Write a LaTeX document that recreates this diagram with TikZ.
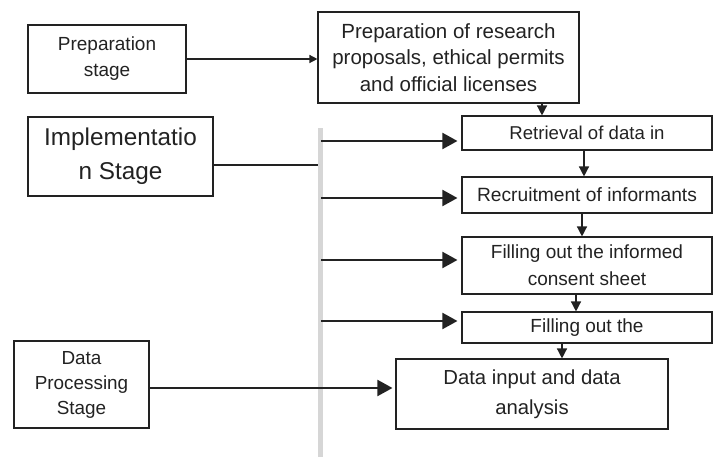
\documentclass[tikz,border=0pt]{standalone}
\usepackage{fontspec}
\setmainfont{Liberation Sans}
\usetikzlibrary{arrows.meta}
\newcommand\fsz[2]{\fontsize{#1}{#2}\selectfont}
\definecolor{barcol}{RGB}{214,214,214}
\definecolor{ink}{RGB}{34,34,34}
\begin{document}
\begin{tikzpicture}[x=1pt,y=-1pt,
  box/.style={draw=ink, line width=1.1pt, align=center, inner sep=0pt, text=ink},
  thinarrow/.style={draw=ink, line width=1.3pt, -{Triangle[length=8pt,width=8pt]}},
  bigarrow/.style={draw=ink, line width=2pt, -{Triangle[length=15pt,width=16pt]}},
  downarrow/.style={draw=ink, line width=1.4pt, -{Triangle[length=10pt,width=10pt]}},
  plainline/.style={draw=ink, line width=2pt}]
\useasboundingbox (0,0) rectangle (716,457);
% boxes
\node[box, minimum width=158pt, minimum height=68pt, font=\fsz{19}{26}] (A) at (107,59) {Preparation\\stage};
\node[box, minimum width=261pt, minimum height=91pt, font=\fsz{20.5}{26.5}] (B) at (448.5,57.5) {Preparation of research\\proposals, ethical permits\\and official licenses};
\node[box, minimum width=185pt, minimum height=79pt, font=\fsz{24.3}{34}] (C) at (120.5,156.5) {Implementatio\\n Stage};
\node[box, minimum width=250pt, minimum height=34pt, font=\fsz{18.6}{26}] (D) at (587,133) {Retrieval of data in};
\node[box, minimum width=250pt, minimum height=36pt, font=\fsz{19.2}{26}] (E) at (587,195) {Recruitment of informants};
\node[box, minimum width=250pt, minimum height=57pt, font=\fsz{19}{27}] (F) at (587,265.5) {Filling out the informed\\consent sheet};
\node[box, minimum width=250pt, minimum height=31pt, font=\fsz{19}{26}] (G) at (587,327.5) {Filling out the};
\node[box, minimum width=272pt, minimum height=70pt, font=\fsz{20.3}{30}] (H) at (532,394) {Data input and data\\analysis};
\node[box, minimum width=135pt, minimum height=87pt, font=\fsz{18.9}{25}] (I) at (81.5,384.5) {Data\\Processing\\Stage};
% gray bar
\node[fill=barcol, draw=none, inner sep=0pt, minimum width=5pt, minimum height=329pt, anchor=north] (bar) at (320.5,128) {};
% helper coordinates
\coordinate (c0) at (213,165);
\coordinate (b1) at (321,141);
\coordinate (b2) at (321,198);
\coordinate (b3) at (321,260);
\coordinate (b4) at (321,321);
\coordinate (p1) at (0,388);
% connectors
\draw[thinarrow] (A.east) -- (B.west |- A.east);
\draw[plainline] (C.east |- c0) -- (bar.west |- c0);
\draw[bigarrow, shorten >=4pt] (b1) -- (D.west |- b1);
\draw[bigarrow, shorten >=4pt] (b2) -- (E.west |- b2);
\draw[bigarrow, shorten >=4pt] (b3) -- (F.west |- b3);
\draw[bigarrow, shorten >=4pt] (b4) -- (G.west |- b4);
\draw[bigarrow, shorten >=3pt] (I.east |- p1) -- (H.west |- p1);
\draw[downarrow] (542,0 |- B.south) -- (542,0 |- D.north);
\draw[downarrow] (584,0 |- D.south) -- (584,0 |- E.north);
\draw[downarrow] (582,0 |- E.south) -- (582,0 |- F.north);
\draw[downarrow] (576,0 |- F.south) -- (576,0 |- G.north);
\draw[downarrow] (562,0 |- G.south) -- (562,0 |- H.north);
\end{tikzpicture}
\end{document}
